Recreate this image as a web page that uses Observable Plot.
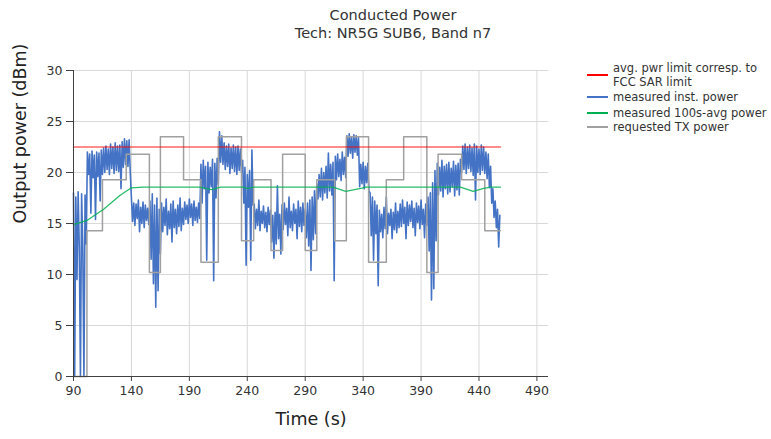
<!DOCTYPE html>
<html>
<head>
<meta charset="utf-8">
<script src="https://cdn.jsdelivr.net/npm/d3@7"></script>
<script src="https://cdn.jsdelivr.net/npm/@observablehq/plot@0.6"></script>
<style>
  body { margin: 0; background: #fff; }
  #wrap { position: relative; width: 771px; height: 439px; font-family: "DejaVu Sans", Verdana, sans-serif; color: #333; }
  #title { position: absolute; left: 0; top: 6px; width: 786px; text-align: center; font-size: 14.5px; line-height: 18px; }
  .lg { position: absolute; font-size: 11.5px; line-height: 14px; white-space: nowrap; }
  .sw { position: absolute; left: 587px; width: 21px; height: 2px; }
</style>
</head>
<body>
<div id="wrap">
  <div id="chart"></div>
  <div id="title">Conducted Power<br>Tech: NR5G SUB6, Band n7</div>
  <div id="legend"></div>
</div>
<script>
// ---- data ----
const xTicks = [90, 140, 190, 240, 290, 340, 390, 440, 490];
const yTicks = [0, 5, 10, 15, 20, 25, 30];

// measured instantaneous power, one value per second from t = 90 s
const instStart = 90;
const instPower = [
  18.0, 0, 17.6, 9.5, 18.1, 12.6, 0, 17.9, 12.8, 0,
  17.8, 13.0, 22.0, 19.8, 21.8, 16.0, 22.1, 19.5, 21.7, 15.4,
  22.0, 19.6, 21.9, 17.2, 22.2, 19.8, 22.4, 20.0, 22.6, 20.3,
  22.3, 19.8, 22.8, 20.4, 22.5, 19.9, 22.9, 20.2, 22.6, 20.1,
  22.7, 18.4, 23.0, 20.5, 23.3, 20.8, 23.1, 20.6, 23.2, 20.0,
  17.5, 15.2, 17.0, 14.8, 16.9, 15.5, 17.3, 14.2, 16.6, 15.0,
  17.1, 14.6, 16.8, 15.3, 16.5, 14.9, 17.2, 11.5, 17.9, 9.1,
  16.8, 6.8, 17.5, 8.4, 16.4, 12.0, 17.0, 14.2, 16.6, 14.8,
  17.4, 13.9, 16.2, 14.5, 16.9, 13.2, 17.2, 14.6, 16.4, 14.0,
  16.8, 14.7, 17.5, 14.3, 16.5, 14.9, 17.1, 15.4, 16.8, 15.0,
  17.4, 15.6, 16.9, 14.8, 17.2, 15.3, 16.6, 15.1, 17.0, 15.5,
  20.8, 17.0, 21.2, 18.4, 20.6, 11.4, 21.0, 18.0, 20.5, 18.6,
  21.3, 9.4, 20.9, 17.5, 21.4, 18.8, 24.0, 21.0, 23.6, 20.8,
  22.9, 20.3, 22.6, 20.6, 22.8, 19.9, 22.4, 20.4, 22.7, 20.1,
  22.5, 19.8, 22.6, 20.2, 22.3, 20.0, 21.2, 17.0, 20.5, 10.9,
  19.8, 16.6, 20.2, 11.4, 22.2, 16.8, 16.9, 14.5, 16.4, 14.8,
  17.3, 14.3, 16.2, 15.0, 16.7, 14.6, 16.1, 14.2, 16.6, 14.9,
  16.3, 13.2, 15.8, 11.6, 16.1, 13.0, 18.7, 13.5, 15.9, 12.0,
  16.8, 14.4, 17.0, 14.9, 16.5, 13.8, 17.6, 14.6, 16.2, 14.3,
  16.9, 15.0, 16.4, 13.5, 17.2, 14.7, 16.6, 14.2, 17.0, 14.8,
  16.4, 13.6, 17.0, 12.8, 17.3, 10.4, 17.6, 13.4, 18.2, 14.0,
  18.9, 17.4, 19.8, 17.6, 20.4, 17.3, 20.0, 18.0, 20.6, 17.5,
  21.9, 18.2, 20.8, 17.8, 21.0, 9.4, 21.6, 19.3, 21.8, 19.6,
  21.3, 19.2, 22.0, 19.8, 21.5, 19.5, 23.6, 21.6, 23.8, 21.9,
  23.5, 21.4, 23.7, 22.0, 23.6, 21.7, 23.4, 18.6, 20.8, 18.9,
  21.0, 18.4, 20.6, 19.0, 20.9, 18.2, 18.0, 13.8, 17.6, 11.4,
  17.2, 14.0, 16.8, 8.9, 16.3, 14.2, 15.9, 13.6, 16.6, 14.5,
  17.6, 14.0, 16.0, 14.8, 16.4, 13.5, 16.1, 14.4, 17.0, 14.1,
  16.2, 14.6, 16.9, 14.7, 17.3, 15.0, 16.6, 13.5, 17.1, 14.8,
  16.8, 15.2, 17.2, 14.6, 16.5, 13.8, 17.0, 15.1, 16.7, 14.5,
  17.3, 14.9, 16.4, 13.6, 16.9, 14.8, 17.6, 12.3, 18.0, 7.5,
  19.0, 8.6, 20.2, 13.3, 20.9, 17.8, 20.5, 18.2, 21.2, 17.6,
  20.6, 18.4, 20.8, 17.9, 21.0, 18.1, 20.4, 18.6, 21.1, 17.7,
  20.7, 18.3, 20.9, 17.8, 21.3, 20.0, 22.6, 20.3, 22.8, 19.9,
  22.5, 20.4, 22.7, 20.1, 22.4, 19.7, 22.8, 17.3, 22.6, 20.0,
  22.3, 19.8, 22.7, 20.2, 22.5, 19.9, 22.0, 19.4, 21.8, 18.5,
  20.6, 17.0, 18.4, 15.6, 17.2, 14.6, 16.4, 12.7, 15.8
];

// requested TX power (step changes)
const reqTime  = [90, 101.6, 115, 135.5, 155.5, 165, 185, 200, 215, 235, 245.5, 260.5, 270.5, 290, 300, 315.5, 325.5, 344.7, 360, 375, 395, 404.7, 425, 445, 458.5];
const reqPower = [0, 14.3, 19.3, 21.8, 10.2, 23.5, 19.3, 11.2, 23.5, 13.3, 19.3, 12.35, 21.8, 12.35, 19.3, 13.3, 23.5, 11.2, 19.3, 23.5, 10.2, 21.8, 19.3, 14.3, 14.3];

// measured 100 s average power
const avgTime  = [90, 101.6, 116, 130, 140, 150, 199, 209, 217, 236, 240, 246, 314, 325, 339, 342, 424, 435, 444, 450, 458.5];
const avgPower = [14.9, 15.3, 16.4, 17.75, 18.5, 18.56, 18.56, 18.33, 18.56, 18.56, 18.45, 18.56, 18.56, 18.14, 18.46, 18.56, 18.56, 18.14, 18.45, 18.56, 18.56];

// average power limit corresponding to FCC SAR limit
const limitTime = [90, 458.5];
const limitPower = 22.5;

const legendItems = [
  {label: ["avg. pwr limit corresp. to", "FCC SAR limit"], color: "#ff0000"},
  {label: ["measured inst. power"], color: "#4472c4"},
  {label: ["measured 100s-avg power"], color: "#00b050"},
  {label: ["requested TX power"], color: "#a0a0a0"}
];

// ---- build tables ----
const inst = instPower.map((v, i) => ({t: instStart + i, v}));
const req = reqTime.map((t, i) => ({t, v: reqPower[i]}));
const avg = avgTime.map((t, i) => ({t, v: avgPower[i]}));
const lim = limitTime.map(t => ({t, v: limitPower}));

const chart = Plot.plot({
  width: 771,
  height: 439,
  marginLeft: 73,
  marginRight: 223,
  marginTop: 70,
  marginBottom: 63,
  style: {fontFamily: "DejaVu Sans, Verdana, sans-serif", fontSize: "12px", color: "#333", background: "white"},
  x: {domain: [90, 500]},
  y: {domain: [0, 30]},
  marks: [
    Plot.gridX(xTicks, {stroke: "#d9d9d9", strokeOpacity: 1}),
    Plot.gridY(yTicks, {stroke: "#d9d9d9", strokeOpacity: 1}),
    Plot.line(inst, {x: "t", y: "v", stroke: "#4472c4", strokeWidth: 1.6}),
    Plot.line(req, {x: "t", y: "v", curve: "step-after", stroke: "#a0a0a0", strokeWidth: 1.5}),
    Plot.line(avg, {x: "t", y: "v", stroke: "#00b050", strokeWidth: 1.3, strokeOpacity: 0.85}),
    Plot.line(lim, {x: "t", y: "v", stroke: "#ff0000", strokeWidth: 1.5, strokeOpacity: 0.6}),
    Plot.ruleY([0], {stroke: "#404040"}),
    Plot.ruleX([90], {stroke: "#404040"}),
    Plot.axisX({ticks: xTicks, tickSize: 5, tickPadding: 5, stroke: "#404040", label: null, fontSize: 12.5}),
    Plot.axisY({ticks: yTicks, tickSize: 7, tickPadding: 4, stroke: "#404040", label: null, fontSize: 12.5}),
    Plot.text(["Time (s)"], {text: d => d, frameAnchor: "bottom", dy: 48, fontSize: 17.5, fill: "#222"}),
    Plot.text(["Output power (dBm)"], {text: d => d, frameAnchor: "left", dx: -53, rotate: -90, fontSize: 17.5, fill: "#222"})
  ]
});
document.getElementById("chart").appendChild(chart);

// ---- legend ----
const lg = document.getElementById("legend");
const rowTops = [61, 90, 106, 120];
legendItems.forEach((item, i) => {
  const top = rowTops[i];
  const sw = document.createElement("div");
  sw.className = "sw";
  sw.style.background = item.color;
  sw.style.top = (top + (item.label.length === 2 ? 13 : 6)) + "px";
  lg.appendChild(sw);
  const tx = document.createElement("div");
  tx.className = "lg";
  tx.style.left = "613px";
  tx.style.top = top + "px";
  tx.innerHTML = item.label.join("<br>");
  lg.appendChild(tx);
});
</script>
</body>
</html>
